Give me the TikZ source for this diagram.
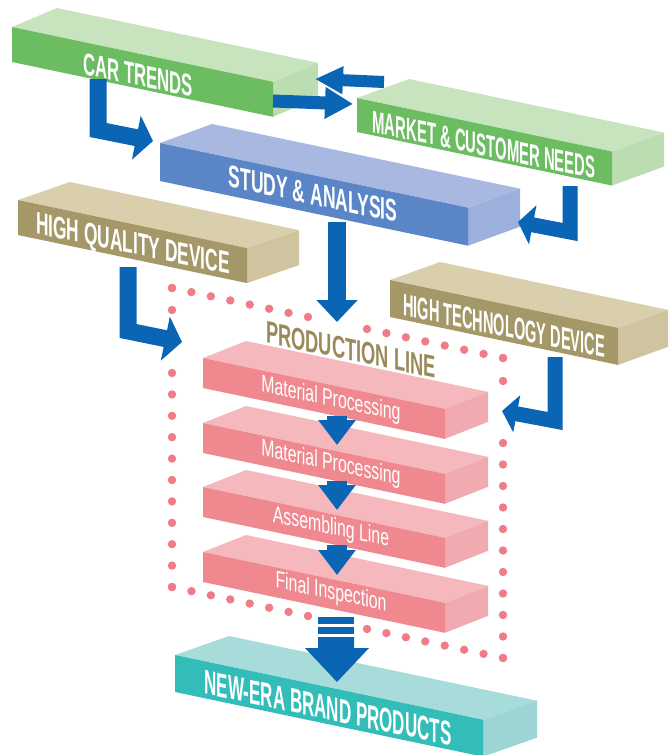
\documentclass[tikz,border=0pt]{standalone}
\usepackage{fontspec}
\setmainfont{Liberation Sans}
\usetikzlibrary{arrows.meta,calc}

\definecolor{greenfront}{HTML}{6CBD62}
\definecolor{greentop}{HTML}{C8E4BE}
\definecolor{greenside}{HTML}{BCDDB2}
\definecolor{bluefront}{HTML}{5A86C8}
\definecolor{bluetop}{HTML}{A8B8E0}
\definecolor{blueside}{HTML}{9DB0DB}
\definecolor{tanfront}{HTML}{A59868}
\definecolor{tantop}{HTML}{D9CFAC}
\definecolor{tanside}{HTML}{CFC49F}
\definecolor{pinkfront}{HTML}{F08890}
\definecolor{pinktop}{HTML}{F5B8BC}
\definecolor{pinkside}{HTML}{F1ABB0}
\definecolor{tealfront}{HTML}{33BDB8}
\definecolor{tealtop}{HTML}{A8DCDB}
\definecolor{tealside}{HTML}{9DD5D4}
\definecolor{flowblue}{HTML}{0A65B5}
\definecolor{dotpink}{HTML}{EE7D88}
\definecolor{linetan}{HTML}{9A8A5B}

% slab: x, y (front top left), width, height, depth x, depth y, colour
\newcommand{\slab}[7]{%
  \fill[#7top] (#1,#2) -- ++(#5,#6) -- ++(#3,{0.21*#3}) -- ++({-(#5)},{-(#6)}) -- cycle;
  \fill[#7side] ({#1+#3},{#2+0.21*#3}) -- ++(#5,#6) -- ++(0,#4) -- ++({-(#5)},{-(#6)}) -- cycle;
  \fill[#7front] (#1,#2) -- ++(#3,{0.21*#3}) -- ++(0,#4) -- ++({-(#3)},{-0.21*#3}) -- cycle;
}
% row of dots from #1 to #2 in #3 steps
\newcommand{\dotrow}[3]{%
  \foreach \k in {0,...,#3} \fill[dotpink] ($#1!\k/#3!#2$) circle[radius=4.2pt];
}

\tikzset{
  captext/.style={text=white, font=\bfseries\fontsize{31}{31}\selectfont, inner sep=0pt, yslant=-0.21},
  steptext/.style={text=white, font=\fontsize{24}{24}\selectfont, inner sep=0pt, yslant=-0.21, xscale=0.66},
  flow/.style={draw=flowblue, line join=miter, miter limit=10},
}

\begin{document}
\begin{tikzpicture}[x=1pt,y=-1pt]
\useasboundingbox (0,0) rectangle (669,755);

% dotted frame of the production line
\coordinate (frameTL) at (172,288);
\coordinate (frameTR) at (503,358);
\coordinate (frameBR) at (503,658);
\coordinate (frameBL) at (172,587);
\dotrow{(frameTL)}{(308,317)}{7}
\dotrow{(367,329)}{(frameTR)}{7}
\dotrow{(frameTR)}{(503,381)}{1}
\dotrow{(503,443)}{(frameBR)}{10}
\dotrow{(frameBR)}{(367,629)}{7}
\dotrow{(308,616)}{(frameBL)}{7}
\dotrow{(frameBL)}{(172,373)}{10}
\dotrow{(172,310)}{(frameTL)}{1}

% boxes
\slab{12}{27}{261}{35}{45}{-19}{green}
\slab{357}{98}{255}{34}{52}{-19}{green}
\slab{160}{143}{308}{38}{52}{-19}{blue}
\slab{18}{200}{229}{35}{52}{-18}{tan}
\slab{390}{280}{228}{37}{50}{-18}{tan}
\foreach \y in {358,423,487,552} {\slab{203}{\y}{242}{30}{43}{-17}{pink}}
\slab{175}{655}{308}{37}{54}{-19}{teal}

\node[captext, xscale=0.54] (cartrends) at (138,75) {CAR TRENDS};
\node[captext, xscale=0.48] (market) at (484,145) {MARKET \& CUSTOMER NEEDS};
\node[captext, xscale=0.565] (study) at (313,194) {STUDY \& ANALYSIS};
\node[captext, xscale=0.56] (quality) at (133,246) {HIGH QUALITY DEVICE};
\node[captext, xscale=0.47] (technology) at (504,326) {HIGH TECHNOLOGY DEVICE};
\node[captext, text=linetan, xscale=0.59] (prodline) at (351,350) {PRODUCTION LINE};
\node[steptext] (material1) at (331,400) {Material Processing};
\node[steptext] (material2) at (331,464) {Material Processing};
\node[steptext] (assembling) at (331,528) {Assembling Line};
\node[steptext] (inspection) at (331,593) {Final Inspection};
\node[captext, font=\bfseries\fontsize{34}{34}\selectfont, xscale=0.5] (newera) at (328,708) {NEW-ERA BRAND PRODUCTS};

% arrows
\coordinate (carout) at (98,79);
\coordinate (studyin) at (153,141);
\draw[flow, line width=17pt, -{Triangle[length=17pt,width=44pt]}] (carout) -- (98,130) -- (studyin);
\draw[flow, line width=12pt, -{Triangle[length=28pt,width=26pt]}] (384,82) -- (315,79);
\draw[flow, line width=13pt, -{Triangle[length=28pt,width=30pt]}] (273,101) -- (353,104);
\coordinate (marketout) at (570,186);
\coordinate (studyin2) at (518,222);
\draw[flow, line width=15pt, -{Triangle[length=15pt,width=39pt]}] (marketout) -- (570,232) -- (studyin2);
\coordinate (studyout) at (337,222);
\coordinate (prodin) at (337,322);
\draw[flow, line width=18pt, -{Triangle[length=22pt,width=40pt]}] (studyout) -- (prodin);
\coordinate (qualityout) at (128,267);
\coordinate (prodleft) at (182,342);
\draw[flow, line width=17pt, -{Triangle[length=17pt,width=44pt]}] (qualityout) -- (128,331) -- (prodleft);
\coordinate (techout) at (555,357);
\coordinate (prodright) at (502,411);
\draw[flow, line width=15pt, -{Triangle[length=15pt,width=37pt]}] (techout) -- (555,421) -- (prodright);
\foreach \a/\b in {416/445,481/510,545/575}
  \draw[flow, line width=20pt, -{Triangle[length=25pt,width=36pt]}] (337,\a) -- (337,\b);
% double arrow to the products
\coordinate (newin) at (337,682);
\fill[flowblue] ($(newin)+(-19,-65)$) rectangle ++(36,7);
\fill[flowblue] ($(newin)+(-19,-55)$) rectangle ++(36,7);
\fill[flowblue] ($(newin)+(-19,-45)$) -- ++(36,0) -- ++(0,11) -- ++(15,0) -- (newin) -- ++(-32,-34) -- ++(13,0) -- cycle;
\end{tikzpicture}
\end{document}
